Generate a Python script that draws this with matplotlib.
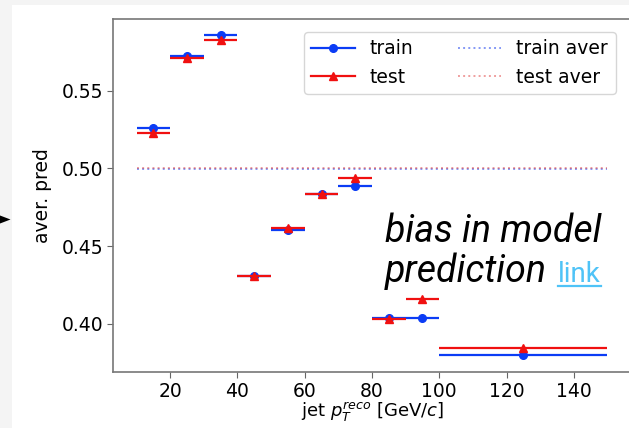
import matplotlib.pyplot as plt
import numpy as np
from matplotlib.patches import Rectangle, Polygon
from matplotlib.lines import Line2D
from matplotlib import font_manager as fm

# bin centres and half-widths in jet pT (GeV/c)
pt_centers = [15, 25, 35, 45, 55, 65, 75, 85, 95, 125]
pt_halfwidth = [5, 5, 5, 5, 5, 5, 5, 5, 5, 25]

train_pred = [0.5258, 0.5725, 0.5858, 0.4307, 0.4601, 0.4835, 0.4886, 0.4037, 0.4037, 0.3799]
test_pred = [0.5230, 0.5712, 0.5828, 0.4305, 0.4616, 0.4833, 0.4936, 0.4032, 0.4159, 0.3844]

train_aver = 0.4999
test_aver = 0.5001
aver_range = [10, 150]

W, H = 629, 428


def roboto_italic(size):
    # pick the plain (non-condensed) Roboto italic file if we can find it
    cands = [f for f in fm.fontManager.ttflist
             if f.name == 'Roboto' and f.style == 'italic'
             and 'ondensed' not in f.fname and 'Flex' not in f.fname]
    cands.sort(key=lambda f: abs((f.weight if isinstance(f.weight, int) else 400) - 400))
    if cands:
        return fm.FontProperties(fname=cands[0].fname, size=size)
    return fm.FontProperties(family='Roboto', style='italic', size=size)


fig = plt.figure(figsize=(W / 100, H / 100), dpi=100)
fig.patch.set_facecolor('#f4f4f4')


def px(x, y):
    """pixel coords (from top-left) -> figure fraction"""
    return x / W, 1 - y / H


# white slide image area
x0, y0 = px(12, 5)
fig.patches.append(Rectangle((x0, 0), 1 - x0, y0, transform=fig.transFigure,
                             facecolor='white', edgecolor='none', zorder=-10))

# little arrow head poking in from the left
tri = [px(0, 215.5), px(10.5, 219.5), px(0, 223.5)]
fig.patches.append(Polygon(tri, closed=True, transform=fig.transFigure,
                           facecolor='black', edgecolor='none', zorder=1))

ax = fig.add_axes([113 / W, (H - 372) / H, (631 - 113) / W, (372 - 19) / H])

blue, red = '#0b3cf5', '#f01010'
ax.errorbar(pt_centers, train_pred, xerr=pt_halfwidth, fmt='o', color=blue,
            markersize=5.5, elinewidth=1.6, capsize=0, zorder=3)
ax.errorbar(pt_centers, test_pred, xerr=pt_halfwidth, fmt='^', color=red,
            markersize=5.5, elinewidth=1.6, capsize=0, zorder=4)
ax.hlines(train_aver, *aver_range, colors='#3355ee', linestyles=':', linewidth=1.4,
          alpha=0.6)
ax.hlines(test_aver, *aver_range, colors='#e04040', linestyles=':', linewidth=1.4,
          alpha=0.5)

ax.set_xlim(3, 157)
ax.set_ylim(0.369, 0.5962)
ax.set_xticks([20, 40, 60, 80, 100, 120, 140])
ax.set_yticks([0.40, 0.45, 0.50, 0.55])
ax.tick_params(labelsize=13.5, color='#666666', length=4, pad=3)
for s in ax.spines.values():
    s.set_color('#777777')
    s.set_linewidth(1.2)

ax.set_xlabel(r'jet $p_T^{reco}$ [GeV/$c$]', fontsize=13, labelpad=0)
ax.set_ylabel('aver. pred', fontsize=13.5, labelpad=7)

handles = [
    Line2D([], [], color=blue, marker='o', markersize=5.5, linewidth=1.6),
    Line2D([], [], color=red, marker='^', markersize=5.5, linewidth=1.6),
    Line2D([], [], color='#3355ee', linestyle=':', linewidth=1.4, alpha=0.6),
    Line2D([], [], color='#e04040', linestyle=':', linewidth=1.4, alpha=0.5),
]
labels = ['train', 'test', 'train aver', 'test aver']
ax.legend(handles, labels, loc='upper right', ncol=2, fontsize=13.5,
          handlelength=2.3, columnspacing=2.4, borderaxespad=0.4,
          bbox_to_anchor=(0.985, 0.985))

# slide overlay text
tx, ty = px(385, 242)
fig.text(tx, ty, 'bias in model', fontproperties=roboto_italic(27),
         va='baseline', ha='left')
tx, ty = px(385, 282)
t2 = fig.text(tx, ty, 'prediction', fontproperties=roboto_italic(27),
              va='baseline', ha='left')

fig.canvas.draw()
r = fig.canvas.get_renderer()
bb = t2.get_window_extent(r)
lx = (bb.x1 + 11) / W
link = fig.text(lx, ty, 'link', family='Roboto', color='#4fc3f7',
                fontsize=20, va='baseline', ha='left')
fig.canvas.draw()
lb = link.get_window_extent(r)
uy = ty - 4 / H
fig.lines.append(Line2D([lb.x0 / W, lb.x1 / W], [uy, uy], transform=fig.transFigure,
                        color='#4fc3f7', linewidth=1.6))

fig.savefig('out.png', dpi=100, facecolor=fig.get_facecolor())
